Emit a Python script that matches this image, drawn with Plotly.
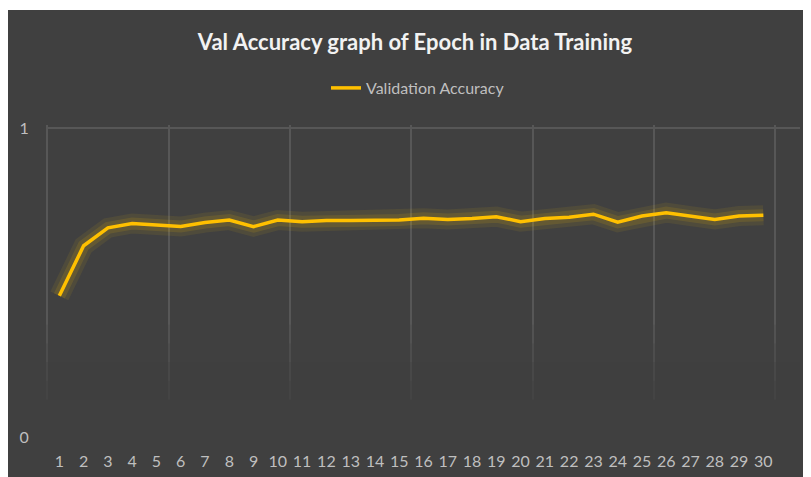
import plotly.graph_objects as go

epochs = list(range(1, 31))
val_accuracy = [0.457, 0.619, 0.677, 0.691, 0.686, 0.681, 0.694, 0.702, 0.681, 0.702,
                0.697, 0.701, 0.701, 0.701, 0.702, 0.708, 0.704, 0.707, 0.713, 0.697,
                0.707, 0.711, 0.721, 0.695, 0.715, 0.726, 0.715, 0.704, 0.715, 0.718]
tick_labels = [str(e) for e in epochs]

FONT = "Lato, Open Sans, sans-serif"
LINE = "#FFC000"
BG = "#404040"
GRID = "#575757"

fig = go.Figure()
# glow layers
fig.add_trace(go.Scatter(x=epochs, y=val_accuracy, mode="lines", showlegend=False, hoverinfo="skip",
                         line=dict(color="rgba(255,200,0,0.08)", width=20)))
fig.add_trace(go.Scatter(x=epochs, y=val_accuracy, mode="lines", showlegend=False, hoverinfo="skip",
                         line=dict(color="rgba(255,200,0,0.12)", width=12)))
fig.add_trace(go.Scatter(x=epochs, y=val_accuracy, mode="lines", name="Validation Accuracy",
                         line=dict(color=LINE, width=3.5)))

# page has an 8px body margin; figure sits at (8, 8) in the window
W, H = 803, 469
L, R, T, B = 38, 11, 117, 40
pw, ph = W - L - R, H - T - B
unit_x = 24.276
x_lo = 0.45
x_hi = x_lo + pw / unit_x
y_hi = ph / 309.0

fig.add_shape(type="rect", xref="paper", yref="paper", layer="below",
              x0=-L / pw, x1=(W - L) / pw, y0=-B / ph, y1=(H - 2 - B) / ph,
              fillcolor=BG, line=dict(width=0))

# the vertical gridlines fade out toward the bottom of the plot (below the line's reach)
for top, op in [(0.36, 0.2), (0.30, 0.25), (0.24, 0.35), (0.18, 0.5), (0.12, 1.0)]:
    fig.add_shape(type="rect", xref="paper", yref="paper", layer="above",
                  x0=0, x1=1, y0=0, y1=top, fillcolor=BG, opacity=op, line=dict(width=0))

fig.update_layout(
    width=W, height=H,
    margin=dict(l=L, r=R, t=T, b=B, autoexpand=False),
    paper_bgcolor="white",
    plot_bgcolor="rgba(0,0,0,0)",
    font=dict(family=FONT, color="#BFBFBF", size=16),
    title=dict(text="<b>Val Accuracy graph of Epoch in Data Training</b>",
               x=407 / W, xanchor="center", y=1 - 34 / H, yanchor="middle",
               font=dict(family=FONT, size=22, color="#F2F2F2")),
    legend=dict(orientation="h", x=410 / W, xref="container", xanchor="center",
                y=1 - 80 / H, yref="container", yanchor="middle",
                bgcolor="rgba(0,0,0,0)", font=dict(size=16, color="#BFBFBF")),
    showlegend=True,
)
fig.update_xaxes(range=[x_lo, x_hi], tickmode="array", tickvals=epochs, ticktext=tick_labels,
                 showgrid=False, zeroline=False, showline=False, automargin=False,
                 ticks="outside", ticklen=10, tickcolor="rgba(0,0,0,0)",
                 tickfont=dict(size=16, color="#BFBFBF"),
                 minor=dict(tickmode="linear", tick0=0.5, dtick=5, showgrid=True,
                            gridcolor=GRID, gridwidth=1.5, ticks=""))
fig.update_yaxes(range=[0, y_hi], tickmode="array", tickvals=[0, 1], ticktext=["0", "1"],
                 showgrid=False, zeroline=False, showline=False, automargin=False,
                 ticks="outside", ticklen=13, tickcolor="rgba(0,0,0,0)",
                 tickfont=dict(size=16, color="#BFBFBF"),
                 minor=dict(tickmode="array", tickvals=[1], showgrid=True,
                            gridcolor=GRID, gridwidth=1.5, ticks=""))

fig.write_html("out.html")
